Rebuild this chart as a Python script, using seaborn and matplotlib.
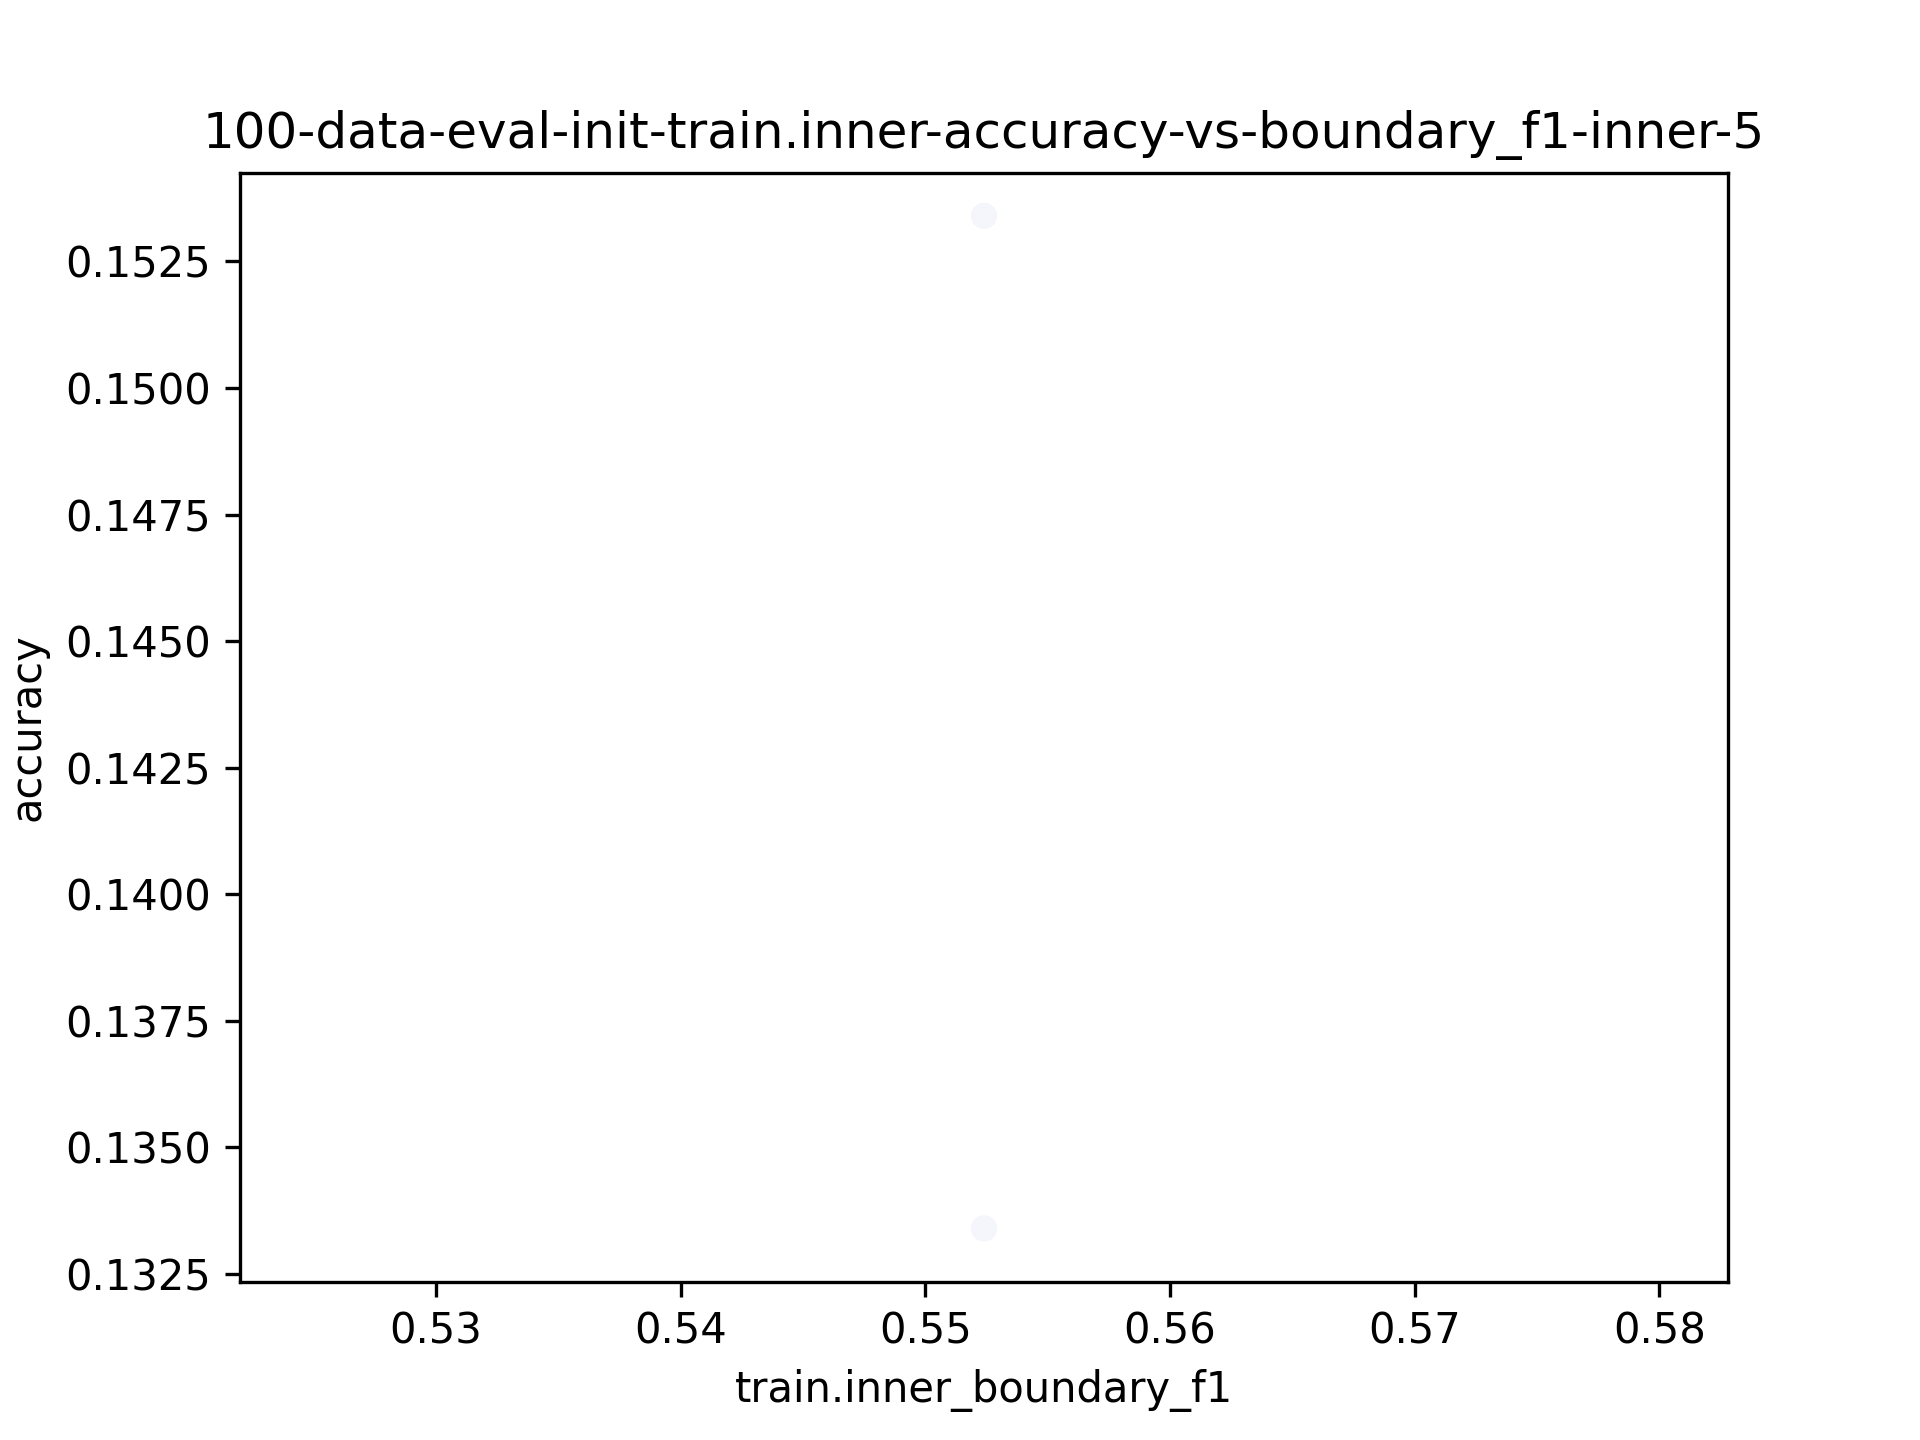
import matplotlib
matplotlib.use("Agg")
import matplotlib.pyplot as plt
import pandas as pd
import seaborn as sns

# two runs, both at the same boundary f1
boundary_f1 = [0.5524, 0.5524]
accuracy = [0.1534, 0.1334]

data = pd.DataFrame({"train.inner_boundary_f1": boundary_f1, "accuracy": accuracy})

fig, ax = plt.subplots(figsize=(6.4, 4.8), dpi=300)
sns.scatterplot(x="train.inner_boundary_f1", y="accuracy", data=data, ax=ax,
                color="#d8dcf0", alpha=0.25, s=40, edgecolor="none")
ax.set_xlim(0.5220, 0.5828)
ax.set_ylim(0.13235, 0.15425)
ax.set_xticks([0.53, 0.54, 0.55, 0.56, 0.57, 0.58])
ax.set_yticks([0.1325, 0.1350, 0.1375, 0.1400, 0.1425, 0.1450, 0.1475, 0.1500, 0.1525])
ax.set_title("100-data-eval-init-train.inner-accuracy-vs-boundary_f1-inner-5")
fig.savefig("out.png")
